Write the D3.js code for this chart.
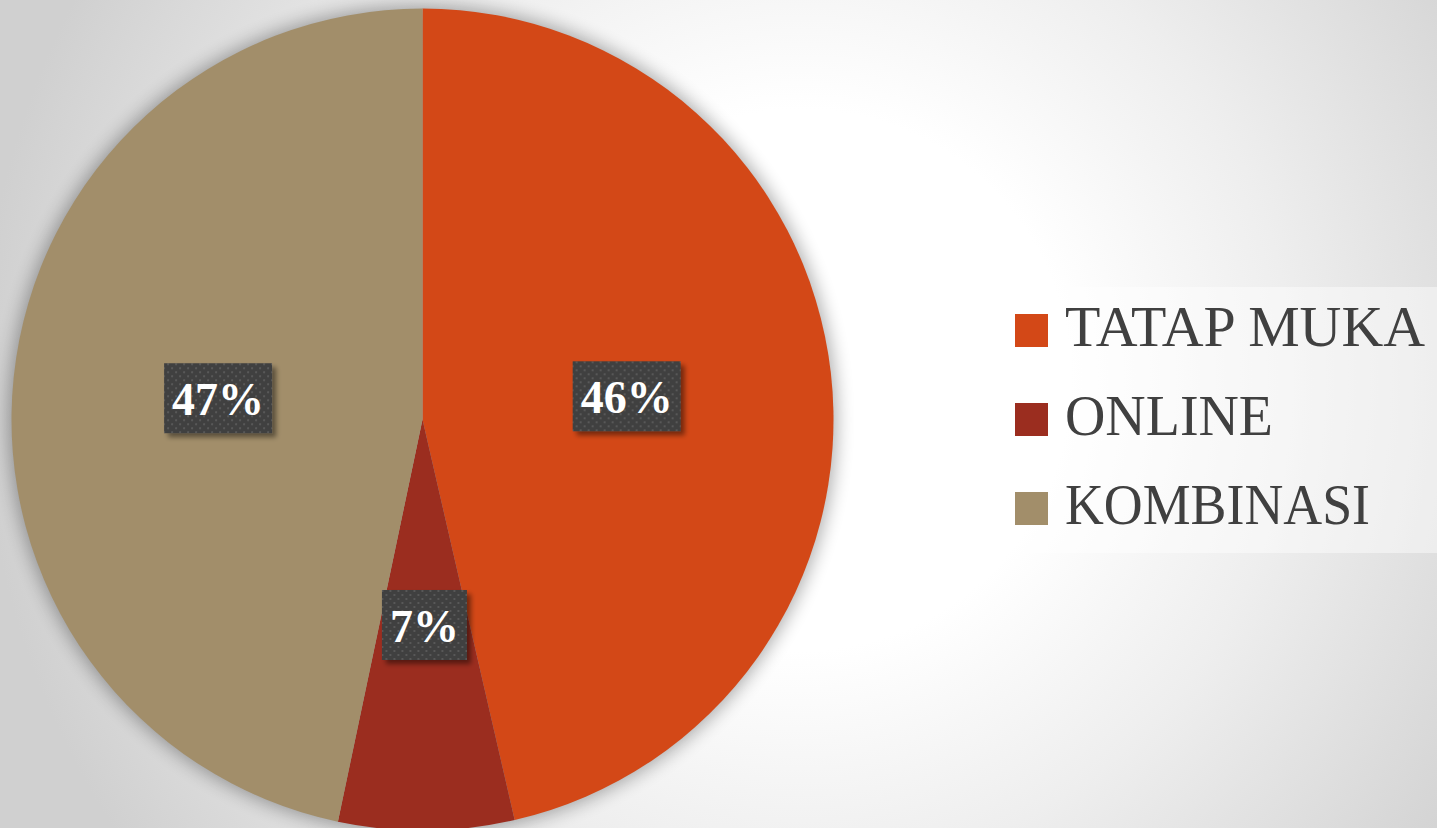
<!DOCTYPE html>
<html><head><meta charset="utf-8">
<script src="https://cdn.jsdelivr.net/npm/d3@7"></script>
<style>html,body{margin:0;padding:0;overflow:hidden;background:#fff}</style>
</head><body><svg id="c" width="1437" height="828"></svg>
<script>
const categories = ["TATAP MUKA", "ONLINE", "KOMBINASI"];
const values = [46.4, 6.9, 46.7];
const labels = ["46%", "7%", "47%"];
const colors = ["#D34817", "#9B2D1F", "#A28E6A"];

const W = 1437, H = 828;
const svg = d3.select("#c");
const defs = svg.append("defs");

const bg = defs.append("radialGradient").attr("id","bg").attr("gradientUnits","userSpaceOnUse")
  .attr("cx",800).attr("cy",380).attr("r",820);
bg.append("stop").attr("offset",0).attr("stop-color","#ffffff");
bg.append("stop").attr("offset",0.33).attr("stop-color","#ffffff");
bg.append("stop").attr("offset",0.6).attr("stop-color","#eeeeee");
bg.append("stop").attr("offset",1).attr("stop-color","#d0d0d0");
svg.append("rect").attr("width",W).attr("height",H).attr("fill","url(#bg)");

const sh = defs.append("filter").attr("id","pshadow").attr("x","-20%").attr("y","-20%").attr("width","140%").attr("height","140%");
sh.append("feGaussianBlur").attr("stdDeviation",9);

const ls = defs.append("filter").attr("id","lshadow").attr("x","-20%").attr("y","-20%").attr("width","150%").attr("height","150%");
ls.append("feGaussianBlur").attr("in","SourceAlpha").attr("stdDeviation",2.5).attr("result","b");
ls.append("feOffset").attr("dx",4).attr("dy",4).attr("result","o");
ls.append("feComponentTransfer").attr("in","o").attr("result","o2")
  .append("feFuncA").attr("type","linear").attr("slope",0.45);
const m = ls.append("feMerge"); m.append("feMergeNode").attr("in","o2"); m.append("feMergeNode").attr("in","SourceGraphic");

const pat = defs.append("pattern").attr("id","dots").attr("patternUnits","userSpaceOnUse").attr("width",8).attr("height",8);
pat.append("rect").attr("width",8).attr("height",8).attr("fill","#404040");
pat.append("rect").attr("x",1).attr("y",1).attr("width",2).attr("height",2).attr("fill","#585858");
pat.append("rect").attr("x",5).attr("y",5).attr("width",2).attr("height",2).attr("fill","#585858");

const cx = 422.5, cy = 419.5, R = 411;
const g = svg.append("g").attr("transform",`translate(${cx},${cy})`);
g.append("circle").attr("r",R+3).attr("fill","#000").attr("opacity",0.32).attr("filter","url(#pshadow)");

const pie = d3.pie().sort(null).value(d=>d.v);
const data = pie(categories.map((c,i)=>({c, v: values[i], l: labels[i], col: colors[i]})));
const arc = d3.arc().innerRadius(0).outerRadius(R);
g.selectAll("path.s").data(data).join("path").attr("class","s")
  .attr("d",arc).attr("fill",d=>d.data.col);

const lab = g.selectAll("g.lab").data(data).join("g").attr("class","lab")
  .attr("transform",d=>`translate(${arc.centroid(d)})`);
lab.each(function(d){
  const gg = d3.select(this);
  const r = gg.append("rect").attr("fill","url(#dots)").attr("filter","url(#lshadow)");
  const t = gg.append("text").attr("text-anchor","middle").attr("y",17)
    .attr("font-family","'Liberation Serif', 'DejaVu Serif', serif").attr("font-weight","bold")
    .attr("font-size",46).attr("fill","#ffffff").text(d.data.l);
  const w = t.node().getComputedTextLength();
  r.attr("x",-w/2-8).attr("y",-35).attr("width",w+16).attr("height",70);
});

// legend
const lg = svg.append("g");
lg.append("rect").attr("x",992).attr("y",287).attr("width",W-992).attr("height",266)
  .attr("fill","#ffffff").attr("opacity",0.45);
const rowsY = [314, 403, 492];
const txtW = [360, 208, 305];
const item = lg.selectAll("g.it").data(categories).join("g").attr("class","it");
item.append("rect").attr("x",1015).attr("y",(d,i)=>rowsY[i]).attr("width",33).attr("height",33)
  .attr("fill",(d,i)=>colors[i]);
item.append("text").attr("x",1065).attr("y",(d,i)=>rowsY[i]+32)
  .attr("font-family","'Liberation Serif', 'DejaVu Serif', serif").attr("font-size",57)
  .attr("fill","#404040").attr("textLength",(d,i)=>txtW[i]).attr("lengthAdjust","spacingAndGlyphs")
  .text(d=>d);
</script></body></html>
